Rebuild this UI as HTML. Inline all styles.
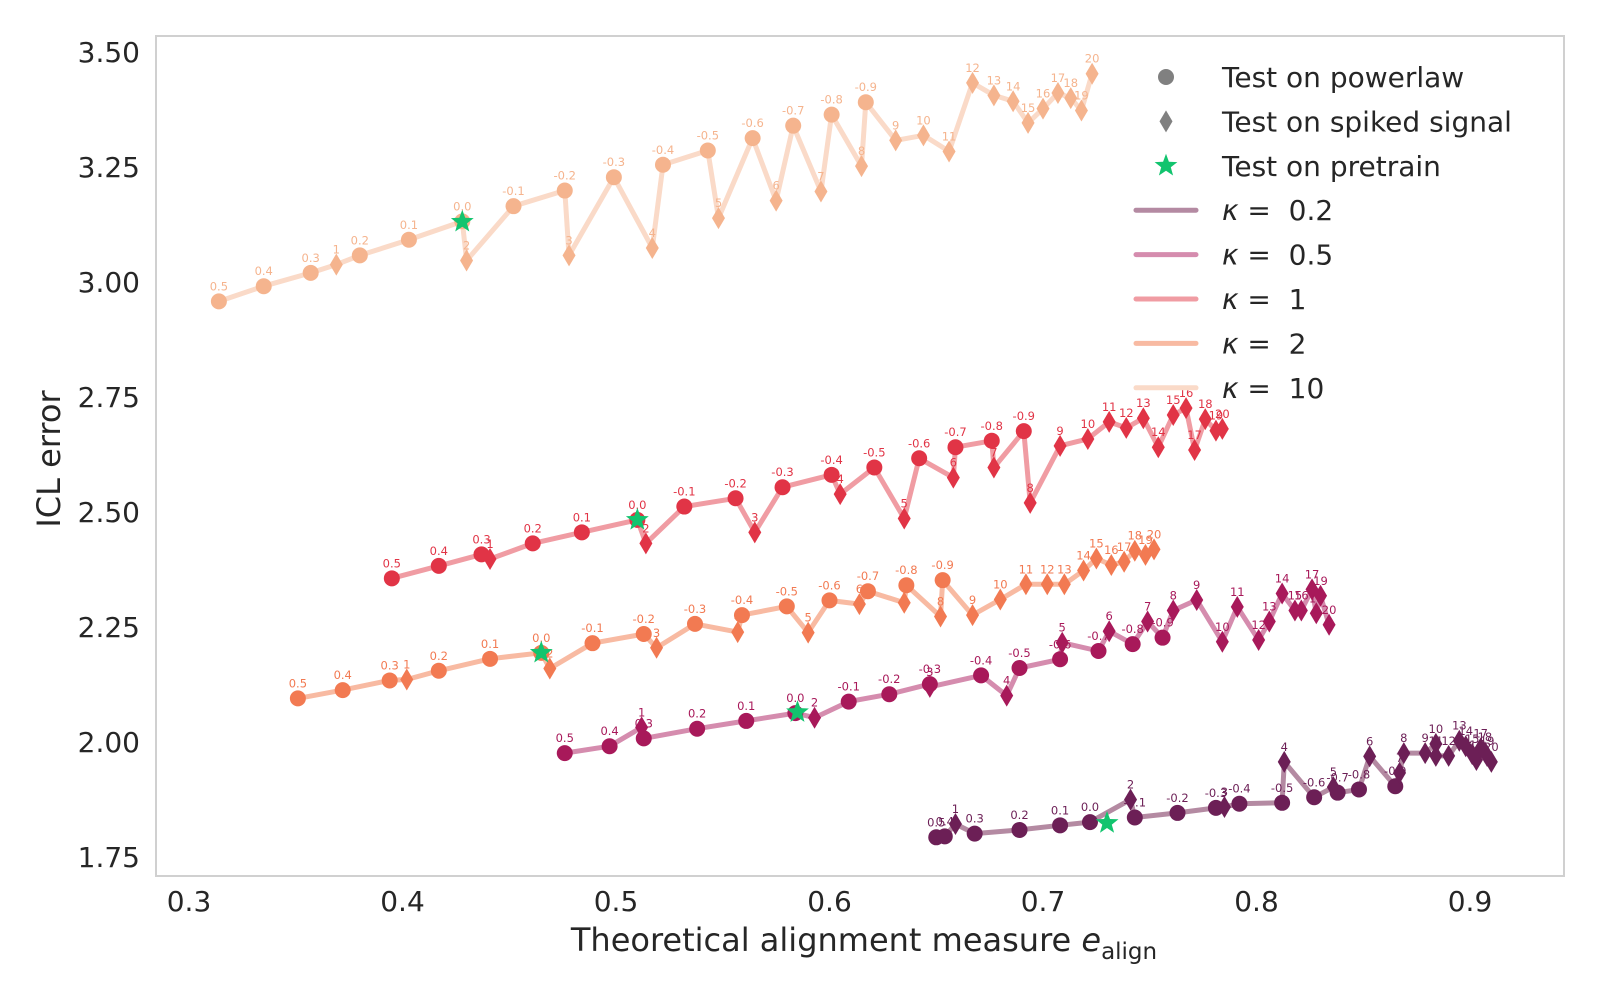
<!DOCTYPE html>
<html><head><meta charset="utf-8"><style>
body{margin:0;background:#fff}
svg{display:block;font-family:"DejaVu Sans","Liberation Sans",sans-serif}
</style></head><body>
<svg id="chart" width="1600" height="1000" viewBox="0 0 1600 1000">
<rect x="0" y="0" width="1600" height="1000" fill="#fff"/>
<rect x="156" y="36" width="1408" height="840" fill="none" stroke="#d0d0d0" stroke-width="2"/>
<g id="yticks"></g>
<g id="xticks"></g>
<text x="60" y="459" transform="rotate(-90 60 459)" text-anchor="middle" font-size="32" fill="#262626">ICL error</text>
<text x="864" y="951" text-anchor="middle" font-size="32" fill="#262626">Theoretical alignment measure <tspan font-style="italic">e</tspan><tspan font-size="23" dy="8">align</tspan></text>
<g id="series"></g>
<g id="legend"></g>
</svg>
<script>
const circleLabels = ["0.5","0.4","0.3","0.2","0.1","0.0","-0.1","-0.2","-0.3","-0.4","-0.5","-0.6","-0.7","-0.8","-0.9"];
const diamondLabels = ["1","2","3","4","5","6","7","8","9","10","11","12","13","14","15","16","17","18","19","20"];
const yTickValues = [1.75,2.00,2.25,2.50,2.75,3.00,3.25,3.50];
const xTickValues = [0.3,0.4,0.5,0.6,0.7,0.8,0.9];

const k02CircX = [.650,.654,.668,.689,.708,.722,.743,.763,.781,.792,.812,.827,.838,.848,.865];
const k02CircY = [1.795,1.797,1.803,1.811,1.821,1.828,1.838,1.848,1.859,1.868,1.870,1.882,1.892,1.899,1.906];
const k02DiaX = [.659,.741,.785,.813,.836,.853,.867,.869,.879,.884,.884,.890,.895,.898,.901,.903,.905,.907,.908,.910];
const k02DiaY = [1.824,1.877,1.861,1.959,1.904,1.971,1.935,1.978,1.978,1.998,1.972,1.972,2.005,1.993,1.976,1.963,1.988,1.980,1.972,1.959];
const k02Star = [0.730,1.826];

const k05CircX = [.476,.497,.513,.538,.561,.584,.609,.628,.647,.671,.689,.708,.726,.742,.756];
const k05CircY = [1.978,1.993,2.010,2.031,2.048,2.065,2.090,2.106,2.128,2.147,2.163,2.182,2.200,2.215,2.229];
const k05DiaX = [.512,.593,.647,.683,.709,.731,.749,.761,.772,.784,.791,.801,.806,.812,.818,.821,.826,.828,.830,.834];
const k05DiaY = [2.034,2.055,2.122,2.103,2.218,2.243,2.264,2.288,2.311,2.220,2.296,2.224,2.264,2.325,2.288,2.288,2.334,2.282,2.320,2.257];
const k05Star = [0.585,2.067];

const k1CircX = [.395,.417,.437,.461,.484,.510,.532,.556,.578,.601,.621,.642,.659,.676,.691];
const k1CircY = [2.358,2.385,2.410,2.434,2.458,2.485,2.514,2.532,2.556,2.583,2.599,2.619,2.643,2.657,2.678];
const k1DiaX = [.441,.514,.565,.605,.635,.658,.677,.694,.708,.721,.731,.739,.747,.754,.761,.767,.771,.776,.781,.784];
const k1DiaY = [2.400,2.434,2.458,2.541,2.488,2.577,2.599,2.522,2.646,2.661,2.698,2.685,2.706,2.643,2.713,2.728,2.637,2.704,2.679,2.683];
const k1Star = [0.510,2.485];

const k2CircX = [.351,.372,.394,.417,.441,.465,.489,.513,.537,.559,.580,.600,.618,.636,.653];
const k2CircY = [2.097,2.115,2.136,2.157,2.183,2.196,2.217,2.237,2.259,2.278,2.297,2.310,2.330,2.343,2.354];
const k2DiaX = [.402,.469,.519,.557,.590,.614,.635,.652,.667,.680,.692,.702,.710,.719,.725,.732,.738,.743,.748,.752];
const k2DiaY = [2.138,2.162,2.207,2.241,2.240,2.302,2.305,2.275,2.278,2.312,2.345,2.345,2.345,2.375,2.401,2.387,2.394,2.418,2.409,2.421];
const k2Star = [0.465,2.196];

const k10CircX = [.314,.335,.357,.380,.403,.428,.452,.476,.499,.522,.543,.564,.583,.601,.617];
const k10CircY = [2.960,2.993,3.022,3.060,3.094,3.134,3.167,3.201,3.230,3.257,3.288,3.315,3.342,3.366,3.393];
const k10DiaX = [.369,.430,.478,.517,.548,.575,.596,.615,.631,.644,.656,.667,.677,.686,.693,.700,.707,.713,.718,.723];
const k10DiaY = [3.040,3.049,3.060,3.076,3.141,3.179,3.199,3.254,3.310,3.321,3.286,3.435,3.408,3.395,3.348,3.379,3.413,3.402,3.375,3.455];
const k10Star = [0.428,3.133];

const kappaLabels = ["0.2","0.5","1","2","10"];

const NS = "http://www.w3.org/2000/svg";
function X(v){ return 189 + (v - 0.3) * 2135; }
function Y(v){ return 858 - (v - 1.75) * 460; }
function mk(tag, attrs, parent){
  const e = document.createElementNS(NS, tag);
  for (const k in attrs) e.setAttribute(k, attrs[k]);
  parent.appendChild(e);
  return e;
}

const yt = document.getElementById('yticks');
yTickValues.forEach(v => {
  const t = mk('text', {x:140, y:Y(v)+9, 'text-anchor':'end', 'font-size':28, fill:'#262626'}, yt);
  
  
  t.textContent = v.toFixed(2);
});
const xt = document.getElementById('xticks');
xTickValues.forEach(v => {
  const t = mk('text', {x:X(v), y:911, 'text-anchor':'middle', 'font-size':28, fill:'#262626'}, xt);
  
  
  t.textContent = v.toFixed(1);
});

const seriesDefs = [
  {cx:k02CircX, cy:k02CircY, dx:k02DiaX, dy:k02DiaY, star:k02Star, line:'#b48aa2', mark:'#6c1f56', lab:'#6c1f56', name:'kappa-0-2'},
  {cx:k05CircX, cy:k05CircY, dx:k05DiaX, dy:k05DiaY, star:k05Star, line:'#d58cae', mark:'#a8195a', lab:'#a8195a', name:'kappa-0-5'},
  {cx:k1CircX, cy:k1CircY, dx:k1DiaX, dy:k1DiaY, star:k1Star, line:'#f09ca3', mark:'#e13446', lab:'#e13446', name:'kappa-1'},
  {cx:k2CircX, cy:k2CircY, dx:k2DiaX, dy:k2DiaY, star:k2Star, line:'#f8baa2', mark:'#f27a52', lab:'#f27a52', name:'kappa-2'},
  {cx:k10CircX, cy:k10CircY, dx:k10DiaX, dy:k10DiaY, star:k10Star, line:'#fadac8', mark:'#f5b48e', lab:'#f5b48e', name:'kappa-10'}
];

const sg = document.getElementById('series');
function starPts(cx, cy, R, r){
  const p = [];
  for (let i = 0; i < 10; i++){
    const a = -Math.PI/2 + i*Math.PI/5;
    const rr = i%2 ? r : R;
    p.push((cx + rr*Math.cos(a)).toFixed(1) + ',' + (cy + rr*Math.sin(a)).toFixed(1));
  }
  return p.join(' ');
}
seriesDefs.forEach(s => {
  const g = mk('g', {}, sg);
  
  
  const pts = [];
  s.cx.forEach((v,i) => pts.push([v, s.cy[i]]));
  s.dx.forEach((v,i) => pts.push([v, s.dy[i]]));
  pts.sort((a,b) => a[0]-b[0]);
  const line = mk('polyline', {points: pts.map(p => X(p[0]).toFixed(1)+','+Y(p[1]).toFixed(1)).join(' '), fill:'none', stroke:s.line, 'stroke-width':5, 'stroke-linejoin':'round', 'stroke-linecap':'round'}, g);
  
  
  s.cx.forEach((v,i) => {
    const c = mk('circle', {cx:X(v), cy:Y(s.cy[i]), r:8, fill:s.mark}, g);
    
    
    const t = mk('text', {x:X(v), y:Y(s.cy[i])-11, 'text-anchor':'middle', 'font-size':11.5, fill:s.lab}, g);
    
    
    t.textContent = circleLabels[i];
  });
  s.dx.forEach((v,i) => {
    const x = X(v), y = Y(s.dy[i]);
    const d = mk('polygon', {points:`${x},${y-11} ${x+6.5},${y} ${x},${y+11} ${x-6.5},${y}`, fill:s.mark}, g);
    
    
    const t = mk('text', {x:x, y:y-11, 'text-anchor':'middle', 'font-size':11.5, fill:s.lab}, g);
    
    
    t.textContent = diamondLabels[i];
  });
});
seriesDefs.forEach(s => {
  const st = mk('polygon', {points: starPts(X(s.star[0]), Y(s.star[1]), 12, 5), fill:'#12c46e'}, sg);
  
  
});

const lg = document.getElementById('legend');
const rowY = [77,121.4,165.8,210.2,254.6,299,343.4,387.8];
function legendText(y){
  const t = mk('text', {x:1222, y:y+10, 'font-size':28, fill:'#262626'}, lg);
  
  
  return t;
}
let e = mk('circle', {cx:1166, cy:rowY[0], r:8, fill:'#808080'}, lg);


legendText(rowY[0]).textContent = 'Test on powerlaw';
e = mk('polygon', {points:`1166,${rowY[1]-11} 1172.5,${rowY[1]} 1166,${rowY[1]+11} 1159.5,${rowY[1]}`, fill:'#808080'}, lg);


legendText(rowY[1]).textContent = 'Test on spiked signal';
e = mk('polygon', {points: starPts(1166, rowY[2], 12, 5), fill:'#12c46e'}, lg);


legendText(rowY[2]).textContent = 'Test on pretrain';
kappaLabels.forEach((k,i) => {
  const y = rowY[3+i];
  const l = mk('line', {x1:1136, y1:y, x2:1196, y2:y, stroke:seriesDefs[i].line, 'stroke-width':5, 'stroke-linecap':'round'}, lg);
  
  
  const t = legendText(y);
  t.setAttribute('xml:space', 'preserve');
  t.innerHTML = '<tspan font-style="italic">κ</tspan> =\u00a0\u00a0' + k;
});
</script>
</body></html>
